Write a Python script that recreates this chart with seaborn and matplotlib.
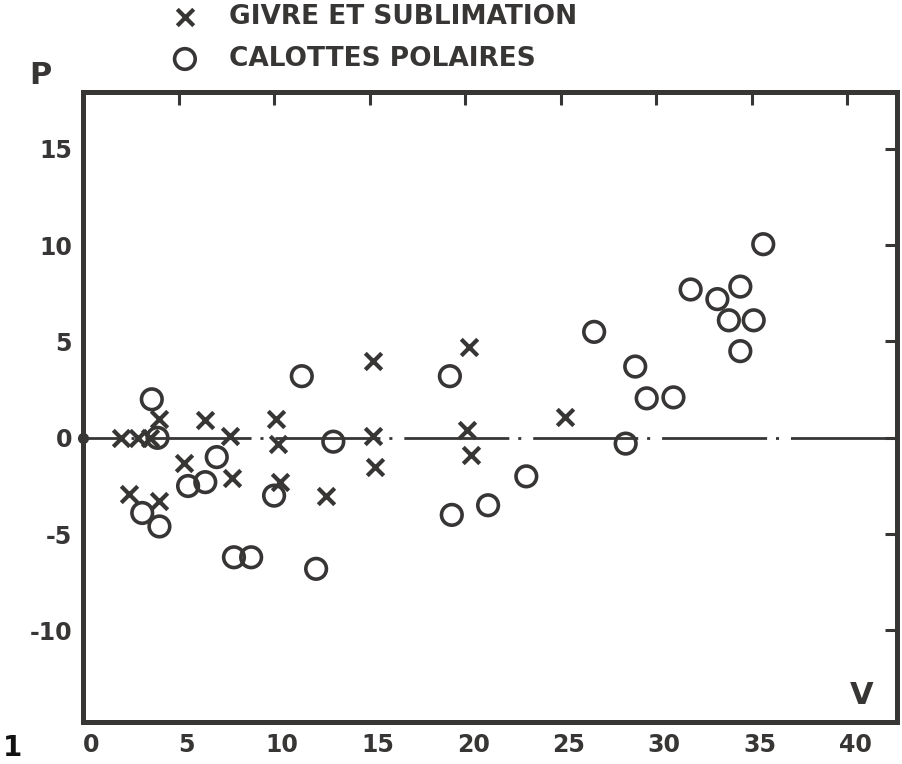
import numpy as np
import pandas as pd
import seaborn as sns
import matplotlib.pyplot as plt
import matplotlib.transforms as mtransforms

# ---- data ----
givre_v = [2.0, 2.9, 3.5, 4.0, 2.4, 4.0, 6.4, 7.7, 5.3, 7.8, 10.1, 10.2, 10.3, 12.7,
           15.2, 15.2, 15.3, 20.2, 20.1, 20.3, 25.2]
givre_p = [0.0, 0.0, 0.0, 1.0, -2.9, -3.3, 0.9, 0.1, -1.3, -2.1, 1.0, -0.3, -2.3, -3.0,
           4.0, 0.1, -1.5, 4.7, 0.4, -0.9, 1.1]

calottes_v = [3.6, 3.9, 3.1, 4.0, 7.0, 5.5, 6.4, 7.9, 8.8, 10.0, 11.45, 13.1, 12.2,
              19.2, 19.3, 21.2, 23.2, 26.75, 28.4, 28.9, 29.5, 30.9, 31.8, 33.2,
              34.4, 33.8, 35.1, 34.4, 35.6]
calottes_p = [2.0, 0.0, -3.9, -4.6, -1.0, -2.5, -2.3, -6.2, -6.2, -3.0, 3.2, -0.2, -6.8,
              3.2, -4.0, -3.5, -2.0, 5.5, -0.3, 3.7, 2.05, 2.1, 7.7, 7.2,
              7.85, 6.1, 6.1, 4.5, 10.05]

x_ticks = [0, 5, 10, 15, 20, 25, 30, 35, 40]
y_ticks = [-10, -5, 0, 5, 10, 15]
series_labels = ["GIVRE ET SUBLIMATION", "CALOTTES POLAIRES"]

# ---- style ----
sns.set_theme(style="white")
plt.rcParams['font.family'] = ['DejaVu Sans']
plt.rcParams['axes.unicode_minus'] = False
ink = '#383535'

fig = plt.figure(figsize=(9.03, 7.64), dpi=100)
ax = fig.add_axes([83/903, 42/764, (897-83)/903, (722-92)/764])

# zero reference line (dash-dot) and origin dot
ax.axhline(0, color=ink, lw=2.0, linestyle=(23.7, (37.8, 3.2, 1.1, 4.3)), zorder=1)
ax.plot([0], [0], 'o', ms=7, color=ink, clip_on=False, zorder=4)

df_g = pd.DataFrame({'V': givre_v, 'P': givre_p})
df_c = pd.DataFrame({'V': calottes_v, 'P': calottes_p})

sns.scatterplot(data=df_g, x='V', y='P', marker='x', s=140, color=ink,
                linewidth=3.0, ax=ax, label=series_labels[0], zorder=3)
sns.scatterplot(data=df_c, x='V', y='P', marker='o', s=220, color=ink,
                facecolor='none', edgecolor=ink, linewidth=2.6, ax=ax,
                label=series_labels[1], zorder=3)

ax.set_xlim(0, 42.6)
ax.set_ylim(-14.75, 17.95)
ax.set_xticks(x_ticks)
ax.set_yticks(y_ticks)
ax.set_xticklabels([str(t) for t in x_ticks])
ax.set_yticklabels([str(t) for t in y_ticks])
ax.set_xlabel('')
ax.set_ylabel('')

for sp in ax.spines.values():
    sp.set_linewidth(3.6)
    sp.set_color(ink)
    sp.set_visible(True)

ax.tick_params(axis='both', direction='in', length=9, width=2.2, colors=ink,
               top=True, right=True, labelsize=17)
ax.tick_params(axis='y', pad=8)
ax.tick_params(axis='x', pad=8)
shift = mtransforms.ScaledTranslation(8/100, 0, fig.dpi_scale_trans)
for lab in ax.get_xticklabels():
    lab.set_transform(lab.get_transform() + shift)
for lab in ax.get_xticklabels() + ax.get_yticklabels():
    lab.set_fontweight('bold')
    lab.set_color(ink)

# legend at the top
leg = ax.legend(loc='center left', bbox_to_anchor=(175/903, 1 - 38/764),
                bbox_transform=fig.transFigure, frameon=False, fontsize=19,
                handlelength=0.75, handletextpad=1.3, borderpad=0,
                labelspacing=0.6, borderaxespad=0)
for t in leg.get_texts():
    t.set_fontweight('bold')
    t.set_color(ink)

# axis letters
fig.text(40/903, 1 - 75/764, 'P', fontsize=22, fontweight='bold', color=ink,
         ha='center', va='center')
fig.text(862/903, 1 - 695/764, 'V', fontsize=22, fontweight='bold', color=ink,
         ha='center', va='center')
fig.text(13/903, 1 - 748/764, '1', fontsize=20, fontweight='bold', color='#111111',
         ha='center', va='center')

fig.savefig('out.png', dpi=100, facecolor='white')
